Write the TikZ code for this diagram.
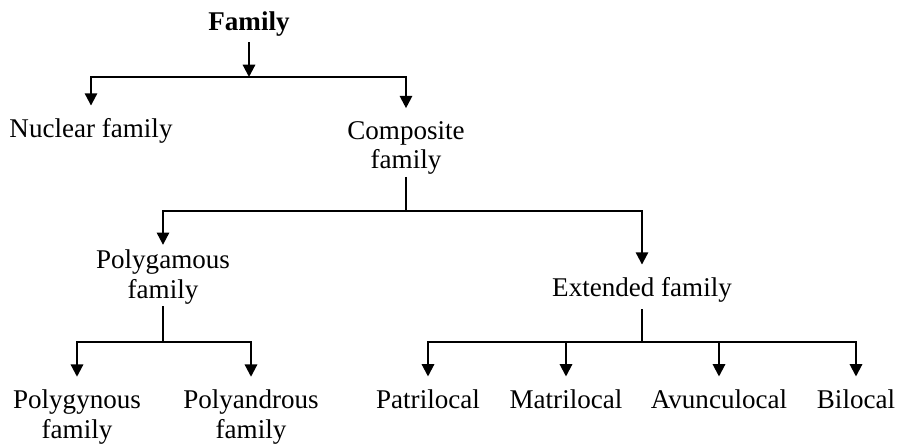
\documentclass[tikz,border=0pt]{standalone}
\usepackage{fontspec}
\setmainfont{Liberation Serif}
\usetikzlibrary{arrows.meta}
\tikzset{
  lbl/.style={inner sep=0pt, outer sep=0pt, align=center, font=\fontsize{15.4}{17}\selectfont},
  arr/.style={line width=1.2pt, -{Triangle[length=7pt,width=7pt]}, shorten >=7.4pt},
  stem/.style={line width=1.2pt, shorten <=1.2pt}
}
\begin{document}
\begin{tikzpicture}[x=0.02cm, y=-0.02cm]
    \useasboundingbox (0,0) rectangle (920,444);

    % Top
    \node[lbl, font=\fontsize{15.4}{17}\selectfont\bfseries] (fam) at (249,24) {Family};

    % Second level
    \node[lbl] (nuc) at (91,131) {Nuclear family};
    \node[lbl] (comp) at (406,148) {Composite\\family};

    % Third level
    \node[lbl] (polygam) at (163,277) {Polygamous\\family};
    \node[lbl] (ext) at (642,290) {Extended family};

    % Fourth level
    \node[lbl] (polygyn) at (77,417) {Polygynous\\family};
    \node[lbl] (polyand) at (251,417) {Polyandrous\\family};
    \node[lbl] (patri) at (428,399) {Patrilocal};
    \node[lbl] (matri) at (566,399) {Matrilocal};
    \node[lbl] (avun) at (719,399) {Avunculocal};
    \node[lbl] (bi) at (856,399) {Bilocal};

    % Junctions
    \coordinate (j1) at (249,77);
    \coordinate (j2) at (406,211);
    \coordinate (j3) at (163,342);
    \coordinate (j4) at (642,342);

    % Connectors
    \draw[arr, shorten >=0pt, shorten <=3.4pt] (fam.south) -- (j1);
    \draw[arr] (j1) -| (nuc.north);
    \draw[arr] (j1) -| (comp.north);

    \draw[stem] (comp.south) -- (j2);
    \draw[arr, shorten >=2.8pt] (j2) -| (polygam.north);
    \draw[arr] (j2) -| (ext.north);

    \draw[stem] (polygam.south) -- (j3);
    \draw[arr] (j3) -| (polygyn.north);
    \draw[arr] (j3) -| (polyand.north);

    \draw[stem, shorten <=4pt] (ext.south) -- (j4);
    \draw[arr] (j4) -| (patri.north);
    \draw[arr] (j4) -| (matri.north);
    \draw[arr] (j4) -| (avun.north);
    \draw[arr] (j4) -| (bi.north);

\end{tikzpicture}
\end{document}
